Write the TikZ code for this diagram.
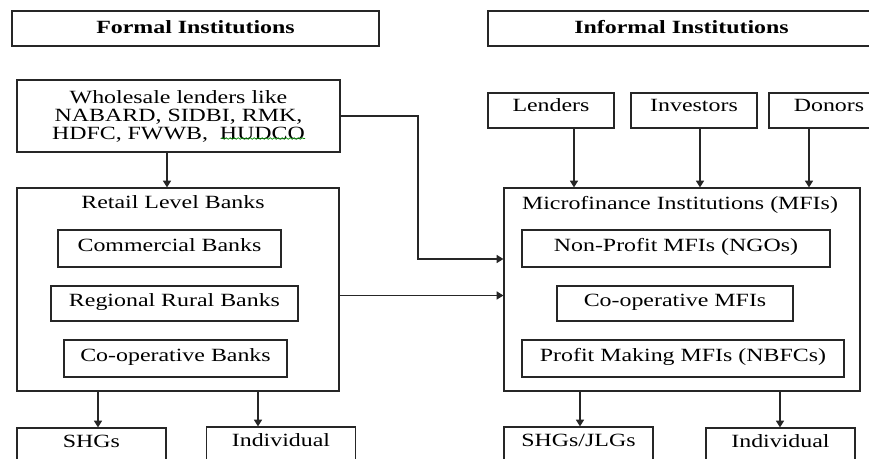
\documentclass[tikz,border=0pt]{standalone}
\usepackage{fontspec}
\setmainfont{Liberation Serif}[FakeStretch=1.28]
\usetikzlibrary{arrows.meta,calc}
\usetikzlibrary{decorations.pathmorphing}
\tikzstyle{box} = [draw=black!85, line width=0.9pt, inner sep=0pt,
    text height=10pt, text depth=6pt, font=\fontsize{14}{13.5}\selectfont]

\begin{document}
\begin{tikzpicture}[x=0.75pt,y=-0.75pt,>={Triangle[length=5pt,width=6pt]}]

\tikzstyle{head} = [box, font=\fontsize{14}{13.5}\selectfont\bfseries, text depth=2.5pt, minimum height=26.25pt]
\tikzstyle{source} = [box, text depth=8.8pt, minimum width=94.5pt, minimum height=26.25pt]
\tikzstyle{group} = [box, minimum height=152.25pt]
\tikzstyle{title} = [inner sep=0pt, text height=10pt, text depth=3pt, font=\fontsize{14}{13.5}\selectfont]
\tikzstyle{client} = [box, text depth=12.8pt, minimum width=111.75pt, minimum height=31.5pt]
\tikzstyle{arr} = [->, draw=black!85, line width=0.9pt]

\useasboundingbox (0,0) rectangle (869,459);
\clip (0,0) rectangle (869,459);

% headings
\node[head, minimum width=275.25pt] (formal) at (195.5,28.5) {Formal Institutions};
\node[head, minimum width=290.25pt] (informal) at (681.5,28.5) {Informal Institutions};

% formal side
\node[box, align=center, text height={}, text depth={}, minimum width=242.25pt, minimum height=54pt] (wholesale) at (178.5,116)
    {Wholesale lenders like\\NABARD, SIDBI, RMK,\\HDFC, FWWB,~ HUDCO};
\draw[green!55!black, line width=0.5pt, decorate, decoration={snake, amplitude=0.6pt, segment length=3pt}] (221,138.5) -- (305,138.5);

\node[group, minimum width=241.5pt] (retail) at (178,289.5) {};
\node[title] (rtitle) at (173,203.5) {Retail Level Banks};
\node[box, minimum width=167.25pt, minimum height=27.75pt] (commercial) at (169.5,248.5) {Commercial Banks};
\node[box, minimum width=185.25pt, minimum height=26.25pt] (regional) at (174.5,303.5) {Regional Rural Banks};
\node[box, minimum width=167.25pt, minimum height=27.75pt] (coopbanks) at (175.5,358.5) {Co-operative Banks};

\node[client] (shgs) at (91.5,449) {SHGs};
\node[client] (indivf) at (281,448) {Individual};

% informal side
\node[source] (lenders) at (551,110.5) {Lenders};
\node[source] (investors) at (694,110.5) {Investors};
\node[source, minimum width=90pt] (donors) at (829,110.5) {Donors};

\node[group, minimum width=267pt] (mfi) at (682,289.5) {};
\node[title] (mtitle) at (680,204.5) {Microfinance Institutions (MFIs)};
\node[box, minimum width=231pt, minimum height=27.75pt] (nonprofit) at (676,248.5) {Non-Profit MFIs (NGOs)};
\node[box, minimum width=177pt, minimum height=26.25pt] (coopmfi) at (675,303.5) {Co-operative MFIs};
\node[box, minimum width=241.5pt, minimum height=27.75pt] (profit) at (683,358.5) {Profit Making MFIs (NBFCs)};

\node[client] (shgsjlgs) at (578.5,448) {SHGs/JLGs};
\node[client] (indivi) at (780.5,449) {Individual};

% connectors
\draw[arr] ($(wholesale.south)+(-11.5,0)$) -- ($(retail.north)+(-11,0)$);
\coordinate (bend) at (418,259);
\draw[arr] (wholesale.east) -| (bend) -- (bend -| mfi.west);
\coordinate (rt) at ($(retail.east)+(0,6)$);
\draw[arr] (rt) -- (rt -| mfi.west);

\draw[arr] ($(lenders.south)+(23,0)$) coordinate (l1) -- (l1 |- mfi.north);
\draw[arr] ($(investors.south)+(6,0)$) coordinate (l2) -- (l2 |- mfi.north);
\draw[arr] ($(donors.south)+(-20,0)$) coordinate (l3) -- (l3 |- mfi.north);

\draw[arr] ($(retail.south)+(-80,0)$) coordinate (r1) -- (r1 |- shgs.north);
\draw[arr] ($(retail.south)+(80,0)$) coordinate (r2) -- (r2 |- indivf.north);
\draw[arr] ($(mfi.south)+(-102,0)$) coordinate (m1) -- (m1 |- shgsjlgs.north);
\draw[arr] ($(mfi.south)+(98,0)$) coordinate (m2) -- (m2 |- indivi.north);

\end{tikzpicture}
\end{document}
